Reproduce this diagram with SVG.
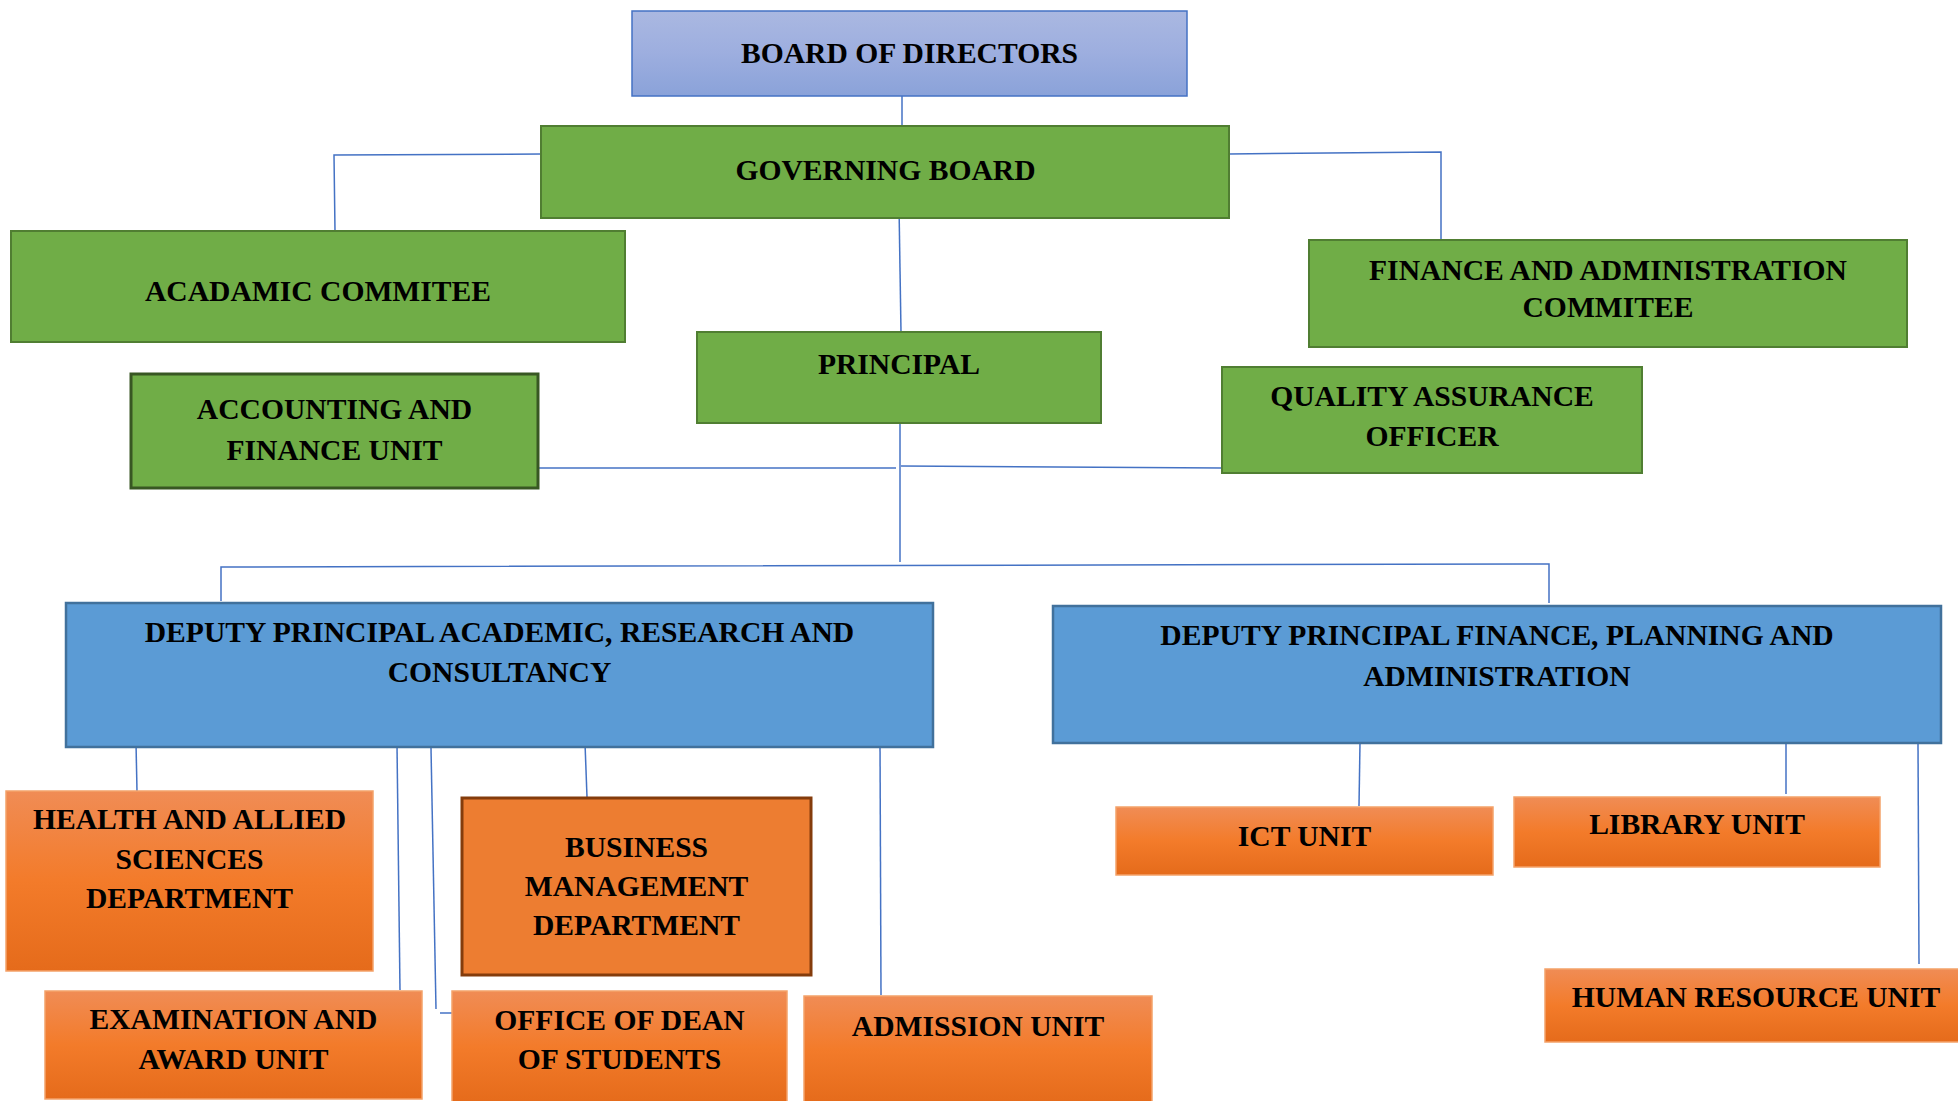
<svg xmlns="http://www.w3.org/2000/svg" width="1958" height="1101" viewBox="0 0 1958 1101">
<defs>
<linearGradient id="gBlue" x1="0" y1="0" x2="0" y2="1">
<stop offset="0" stop-color="#AAB8E1"/>
<stop offset="0.5" stop-color="#9DAEDF"/>
<stop offset="1" stop-color="#8AA2D9"/>
</linearGradient>
<linearGradient id="gOrange" x1="0" y1="0" x2="0" y2="1">
<stop offset="0" stop-color="#F08C55"/>
<stop offset="0.5" stop-color="#F37B2A"/>
<stop offset="1" stop-color="#E56B1B"/>
</linearGradient>
<style>
.t{font-family:"Liberation Serif","Times New Roman",serif;font-weight:bold;font-size:29.6px;fill:#000;text-anchor:middle}
.bod{fill:url(#gBlue);stroke:#4472C4;stroke-width:1.5}
.grn{fill:#70AD47;stroke:#507E32;stroke-width:2}
.grnD{fill:#70AD47;stroke:#385723;stroke-width:3}
.dp{fill:#5B9BD5;stroke:#41719C;stroke-width:2.5}
.org{fill:url(#gOrange);stroke:#F4A26A;stroke-width:1.5}
.bus{fill:#ED7D31;stroke:#843C0C;stroke-width:3}
.c{fill:none;stroke:#4472C4;stroke-width:1.5}
</style>
</defs>
<rect width="1958" height="1101" fill="#FFFFFF"/>

<g id="connectors">
<polyline class="c" points="902,96 902,126"/>
<polyline class="c" points="541,154 334,155 335,231"/>
<polyline class="c" points="1229,154 1441,152 1441,239"/>
<polyline class="c" points="899,206 901,332"/>
<polyline class="c" points="900,417 900,562"/>
<polyline class="c" points="538,468 896,468"/>
<polyline class="c" points="901,466 1221,468"/>
<polyline class="c" points="221,601 221,567 1546,564 1549,564 1549,603"/>
<polyline class="c" points="136,743 137,791"/>
<polyline class="c" points="397,745 400,990"/>
<polyline class="c" points="431,748 436,1009"/>
<polyline class="c" points="440,1013 454,1013"/>
<polyline class="c" points="585,743 587,797"/>
<polyline class="c" points="880,743 881,995"/>
<polyline class="c" points="1360,743 1359,806"/>
<polyline class="c" points="1786,743 1786,794"/>
<polyline class="c" points="1918,743 1919,964"/>
</g>

<g id="board-of-directors">
<rect class="bod" x="632" y="11" width="555" height="85"/>
<text class="t" x="909.5" y="63">BOARD OF DIRECTORS</text>
</g>

<g id="governing-board">
<rect class="grn" x="541" y="126" width="688" height="92"/>
<text class="t" x="885.5" y="180">GOVERNING BOARD</text>
</g>

<g id="academic-committee">
<rect class="grn" x="11" y="231" width="614" height="111"/>
<text class="t" x="318" y="301">ACADAMIC COMMITEE</text>
</g>

<g id="finance-admin-committee">
<rect class="grn" x="1309" y="240" width="598" height="107"/>
<text class="t" x="1608" y="280">FINANCE AND ADMINISTRATION</text>
<text class="t" x="1608" y="317">COMMITEE</text>
</g>

<g id="principal">
<rect class="grn" x="697" y="332" width="404" height="91"/>
<text class="t" x="899" y="374">PRINCIPAL</text>
</g>

<g id="accounting-finance-unit">
<rect class="grnD" x="131" y="374" width="407" height="114"/>
<text class="t" x="334.5" y="419">ACCOUNTING AND</text>
<text class="t" x="334.5" y="460">FINANCE UNIT</text>
</g>

<g id="quality-assurance">
<rect class="grn" x="1222" y="367" width="420" height="106"/>
<text class="t" x="1432" y="406">QUALITY ASSURANCE</text>
<text class="t" x="1432" y="446">OFFICER</text>
</g>

<g id="dp-academic">
<rect class="dp" x="66" y="603" width="867" height="144"/>
<text class="t" x="499.5" y="642">DEPUTY PRINCIPAL ACADEMIC, RESEARCH AND</text>
<text class="t" x="499.5" y="682">CONSULTANCY</text>
</g>

<g id="dp-finance">
<rect class="dp" x="1053" y="606" width="888" height="137"/>
<text class="t" x="1497" y="645">DEPUTY PRINCIPAL FINANCE, PLANNING AND</text>
<text class="t" x="1497" y="686">ADMINISTRATION</text>
</g>

<g id="health-allied-sciences">
<rect class="org" x="6" y="791" width="367" height="180"/>
<text class="t" x="189.5" y="829">HEALTH AND ALLIED</text>
<text class="t" x="189.5" y="869">SCIENCES</text>
<text class="t" x="189.5" y="908">DEPARTMENT</text>
</g>

<g id="business-management">
<rect class="bus" x="462" y="798" width="349" height="177"/>
<text class="t" x="636.5" y="857">BUSINESS</text>
<text class="t" x="636.5" y="896">MANAGEMENT</text>
<text class="t" x="636.5" y="935">DEPARTMENT</text>
</g>

<g id="examination-award">
<rect class="org" x="45" y="991" width="377" height="108"/>
<text class="t" x="233.5" y="1029">EXAMINATION AND</text>
<text class="t" x="233.5" y="1069">AWARD UNIT</text>
</g>

<g id="dean-of-students">
<rect class="org" x="452" y="991" width="335" height="112"/>
<text class="t" x="619.5" y="1030">OFFICE OF DEAN</text>
<text class="t" x="619.5" y="1069">OF STUDENTS</text>
</g>

<g id="admission-unit">
<rect class="org" x="804" y="996" width="348" height="107"/>
<text class="t" x="978" y="1036">ADMISSION UNIT</text>
</g>

<g id="ict-unit">
<rect class="org" x="1116" y="807" width="377" height="68"/>
<text class="t" x="1304.5" y="846">ICT UNIT</text>
</g>

<g id="library-unit">
<rect class="org" x="1514" y="797" width="366" height="70"/>
<text class="t" x="1697" y="834">LIBRARY UNIT</text>
</g>

<g id="human-resource-unit">
<rect class="org" x="1545" y="969" width="422" height="73"/>
<text class="t" x="1756" y="1007">HUMAN RESOURCE UNIT</text>
</g>
</svg>
